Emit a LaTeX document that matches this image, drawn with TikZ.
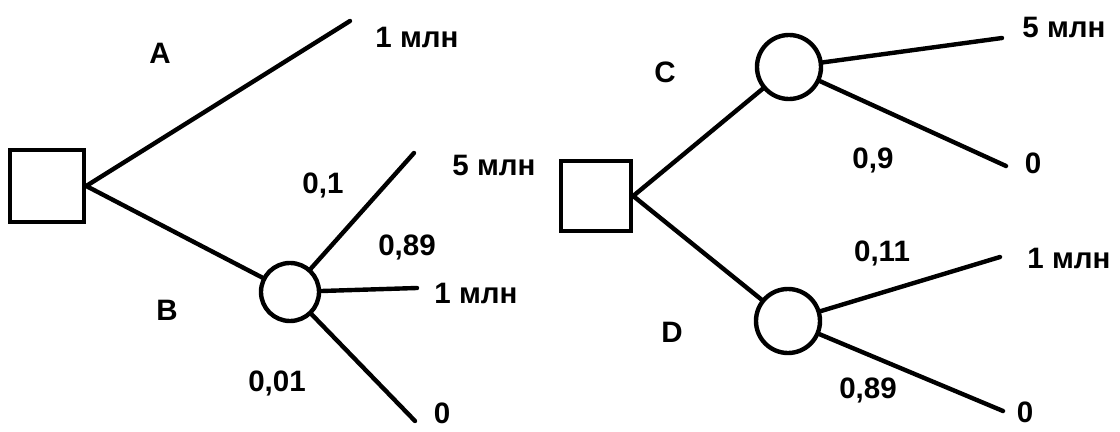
\documentclass[tikz,border=0pt]{standalone}
\usepackage{fontspec}
\setmainfont{Liberation Sans}
\usetikzlibrary{shapes,arrows}

\begin{document}
\begin{tikzpicture}[%
    x=0.025cm, y=-0.025cm,      % One unit is one pixel of the sketch
    line width=0.11cm,          % Heavy strokes throughout
    every path/.style={line cap=round},
    ]
% -------------------------------------------------
% A few node styles
\tikzset{
  decision/.style={draw, rectangle, minimum width=1.85cm, minimum height=1.8cm, fill=white},
  chance/.style={draw, circle, minimum size=1.6cm, inner sep=0pt},
  lbl/.style={font={\bfseries\fontsize{21}{25}\selectfont}, inner sep=1pt},
  branch/.style={draw, black},
}
\useasboundingbox (0,0) rectangle (1120,432);
% -------------------------------------------------
% Left tree: decision node and the lottery after B
\node [decision] (d1) at (47,186) {};
\node [chance, minimum size=1.45cm] (c1) at (290,292) {};
\coordinate (eA) at (350,21);
\coordinate (e5a) at (414,153);
\coordinate (e1a) at (417,288);
\coordinate (e0a) at (415,421);

\node [lbl] (lA) at (160,53) {A};
\node [lbl] (lB) at (167,310) {B};
\node [lbl] (oA) at (417,37) {1 млн};
\node [lbl] (o5a) at (494,165) {5 млн};
\node [lbl] (o1a) at (476,293) {1 млн};
\node [lbl] (o0a) at (442,413) {0};
\node [lbl] (p1) at (323,185) {0,1};
\node [lbl] (p2) at (407,247) {0,89};
\node [lbl] (p3) at (277,383) {0,01};

\draw[branch] (d1.east) -- (eA);		%A,1 млн
\draw[branch] (d1.east) -- (c1);		%B,lottery
\draw[branch] (c1) -- (e5a);		%0,1,5 млн
\draw[branch] (c1) -- (e1a);		%0,89,1 млн
\draw[branch] (c1) -- (e0a);		%0,01,0

% -------------------------------------------------
% Right tree: decision node with two lotteries C and D
\node [decision, minimum width=1.75cm, minimum height=1.75cm] (d2) at (596,196) {};
\node [chance] (c2) at (789,67) {};
\node [chance] (c3) at (788,321) {};
\coordinate (e5b) at (1002,38);
\coordinate (e0b) at (1006,166);
\coordinate (e1b) at (1000,257);
\coordinate (e0c) at (1003,411);

\node [lbl] (lC) at (665,72) {C};
\node [lbl] (lD) at (672,332) {D};
\node [lbl] (o5b) at (1064,27) {5 млн};
\node [lbl] (o0b) at (1033,163) {0};
\node [lbl] (o1b) at (1069,258) {1 млн};
\node [lbl] (o0c) at (1025,412) {0};
\node [lbl] (p4) at (873,160) {0,9};
\node [lbl] (p5) at (882,253) {0,11};
\node [lbl] (p6) at (868,390) {0,89};

\draw[branch] (d2.east) -- (c2);		%C,lottery
\draw[branch] (d2.east) -- (c3);		%D,lottery
\draw[branch] (c2) -- (e5b);		%C,5 млн
\draw[branch] (c2) -- (e0b);		%C,0,9,0
\draw[branch] (c3) -- (e1b);		%D,0,11,1 млн
\draw[branch] (c3) -- (e0c);		%D,0,89,0

% -------------------------------------------------
\end{tikzpicture}
\end{document}
